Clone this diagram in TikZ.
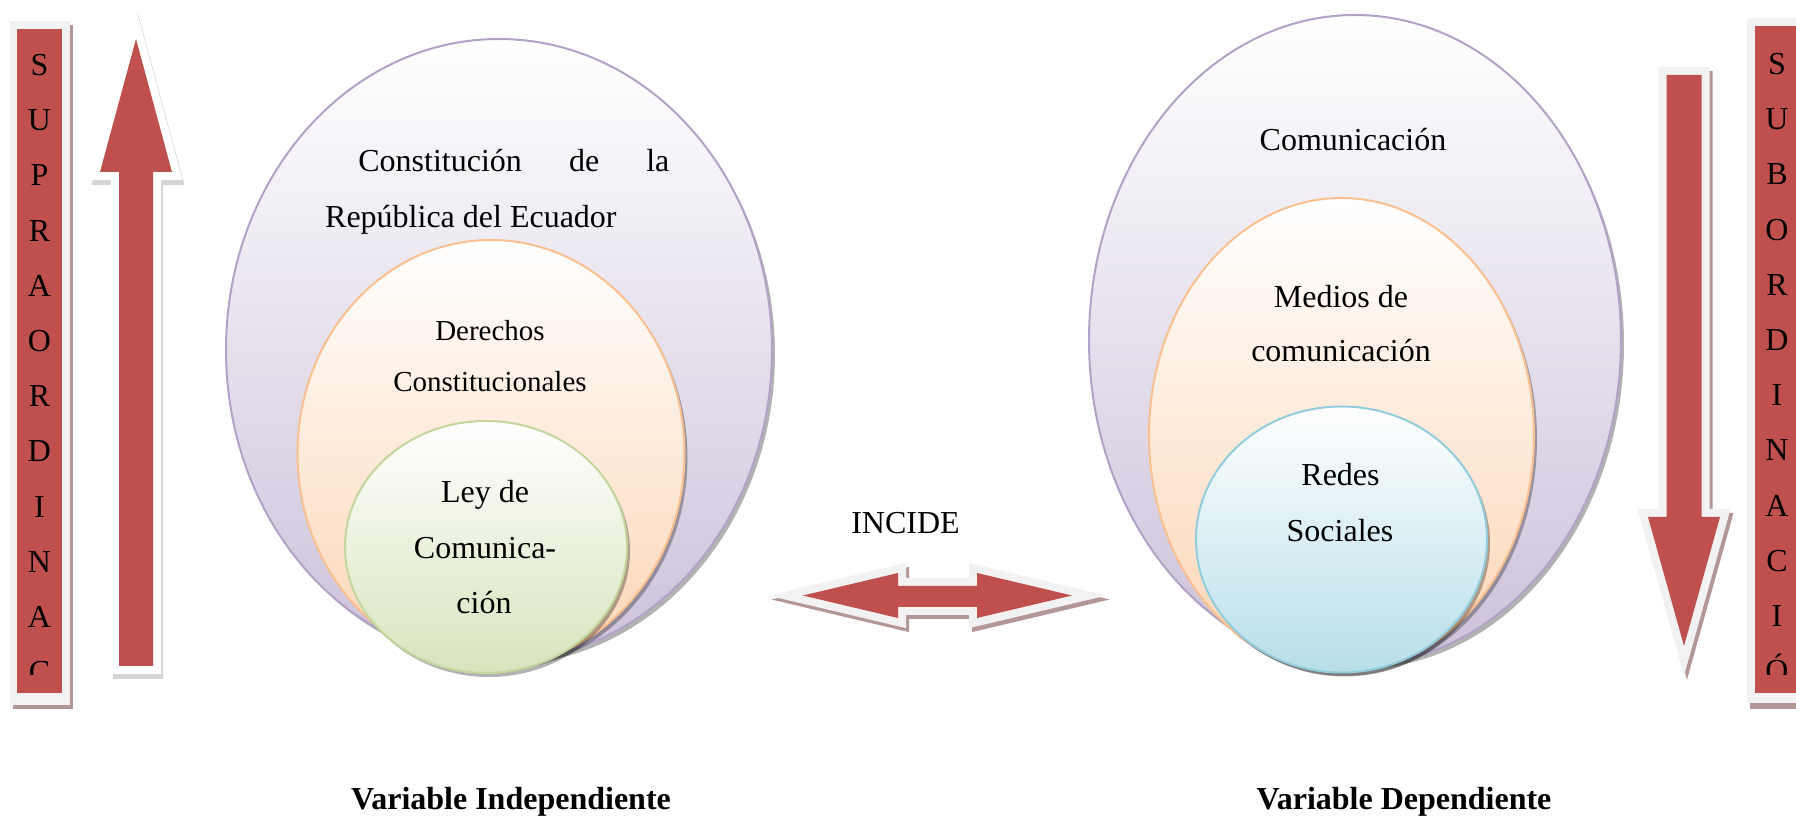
\documentclass[tikz,border=0pt]{standalone}
\usepackage{fontspec}
\setmainfont{Liberation Serif}
\definecolor{arrowred}{HTML}{C0504D}
\definecolor{edgegray}{HTML}{F2F2F2}
\definecolor{shadowred}{HTML}{B39797}
\definecolor{lilacline}{HTML}{B3A2C7}
\definecolor{lilacfill}{HTML}{CCC1DA}
\definecolor{peachline}{HTML}{FAC090}
\definecolor{peachfill}{HTML}{FCD5B5}
\definecolor{greenline}{HTML}{C3D69B}
\definecolor{greenfill}{HTML}{D7E4BD}
\definecolor{blueline}{HTML}{93CDDD}
\definecolor{bluefill}{HTML}{B7DEE8}
\tikzset{
  txt/.style={inner sep=0pt,anchor=base,font=\fontsize{16}{19}\selectfont},
  txtsmall/.style={txt,font=\fontsize{14.5}{17}\selectfont},
  letter/.style={inner sep=0pt,anchor=base,font=\fontsize{16}{19}\selectfont},
  bigarrow/.style={fill=arrowred,
    preaction={draw=shadowred,fill=shadowred,line width=8pt,line join=miter,
      transform canvas={shift={(1.5pt,-2pt)}}},
    preaction={draw=edgegray,line width=8pt,line join=miter}},
  uparrow/.style={fill=arrowred,
    preaction={draw=black!17,fill=black!17,line width=8pt,line join=miter,
      transform canvas={shift={(1pt,-2.5pt)}}},
    preaction={draw=white,line width=8pt,line join=miter}},
  oval/.style={line width=1pt,top color=white},
  ovalshadow/.style={fill=black,opacity=.3}
}

\begin{document}
\begin{tikzpicture}[x=0.5pt,y=-0.5pt]
\clip (0,0) rectangle (1796,817);

% side bars
\fill[shadowred] (13,25) rectangle (73,709);
\fill[edgegray] (10,21) rectangle (70,705);
\fill[arrowred] (17,29) rectangle (62,693);
\begin{scope}
\clip (17,29) rectangle (62,675);
\foreach \ch [count=\i from 0] in {S,U,P,R,A,O,R,D,I,N,A,C}
  \node[letter] (supra\i) at (39.5,75.6+55.2*\i) {\ch};
\end{scope}

\fill[shadowred] (1750,22) rectangle (1800,709);
\fill[edgegray] (1747,18) rectangle (1800,703);
\fill[arrowred] (1755,26) rectangle (1800,693);
\begin{scope}
\clip (1755,26) rectangle (1800,675);
\foreach \ch [count=\i from 0] in {S,U,B,O,R,D,I,N,A,C,I,Ó}
  \node[letter] (subor\i) at (1777,74.6+55.2*\i) {\ch};
\end{scope}

% block arrows
\fill[uparrow] (136,39) -- (172,172) -- (153,172) -- (153,666) -- (119,666)
  -- (119,172) -- (100,172) -- cycle;
\fill[bigarrow] (1666.5,75) -- (1701.5,75) -- (1701.5,517) -- (1720,517)
  -- (1684,646) -- (1648,517) -- (1666.5,517) -- cycle;
\fill[bigarrow] (803,595.5) -- (898,573) -- (898,586) -- (977,586) -- (977,573)
  -- (1072,595.5) -- (977,618) -- (977,607) -- (898,607) -- (898,618) -- cycle;

% left ovals
\coordinate (Lout) at (499,350);
\coordinate (Lmid) at (491,453.5);
\coordinate (Lin) at (486,547);
\fill[ovalshadow] ([shift={(3,4)}]Lout) ellipse (273 and 311);
\shadedraw[oval,draw=lilacline,bottom color=lilacfill] (Lout) ellipse (273 and 311);
\fill[ovalshadow] ([shift={(3,4)}]Lmid) ellipse (193.5 and 213.5);
\shadedraw[oval,draw=peachline,bottom color=peachfill] (Lmid) ellipse (193.5 and 213.5);
\fill[ovalshadow] ([shift={(3,4)}]Lin) ellipse (141 and 126);
\shadedraw[oval,draw=greenline,bottom color=greenfill] (Lin) ellipse (141 and 126);

% right ovals
\coordinate (Rout) at (1355,340);
\coordinate (Rmid) at (1341.5,435);
\coordinate (Rin) at (1341.5,539.5);
\fill[ovalshadow] ([shift={(3,4)}]Rout) ellipse (266 and 325);
\shadedraw[oval,draw=lilacline,bottom color=lilacfill] (Rout) ellipse (266 and 325);
\fill[ovalshadow] ([shift={(3,4)}]Rmid) ellipse (192.5 and 237);
\shadedraw[oval,draw=peachline,bottom color=peachfill] (Rmid) ellipse (192.5 and 237);
\fill[ovalshadow] ([shift={(3,4)}]Rin) ellipse (145.5 and 133);
\shadedraw[oval,draw=blueline,bottom color=bluefill] (Rin) ellipse (145.5 and 133);

% texts
\node[txt,anchor=base west] (const) at (358,172) {\makebox[155.5pt][s]{Constitución de la}};
\node[txt,anchor=base east] (repub) at (617,228) {República del Ecuador};
\node[txtsmall] (derech) at (490,341) {Derechos};
\node[txtsmall] (constit) at (490,392) {Constitucionales};
\node[txt] (ley) at (485,503) {Ley de};
\node[txt] (comuni) at (485,559) {Comunica-};
\node[txt] (cion) at (484,614) {ción};
\node[txt] (incide) at (905.5,534) {INCIDE};
\node[txt] (comunic) at (1353,151) {Comunicación};
\node[txt] (medios) at (1341,308) {Medios de};
\node[txt] (mcomun) at (1341,362) {comunicación};
\node[txt] (redes) at (1340.5,486) {Redes};
\node[txt] (social) at (1340,542) {Sociales};
\node[txt,font=\fontsize{16}{19}\selectfont\bfseries] (varind) at (511,810) {Variable Independiente};
\node[txt,font=\fontsize{16}{19}\selectfont\bfseries] (vardep) at (1404,810) {Variable Dependiente};
\end{tikzpicture}
\end{document}
